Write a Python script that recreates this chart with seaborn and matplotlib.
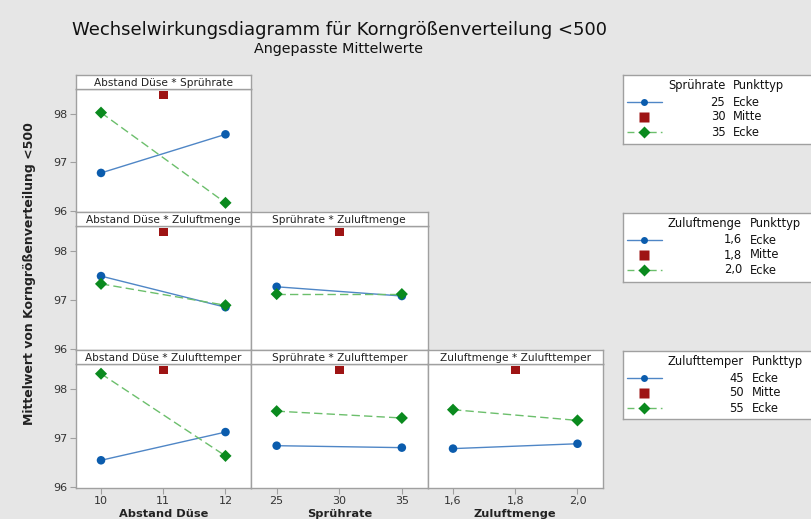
import numpy as np
import pandas as pd
import matplotlib
matplotlib.use("Agg")
import matplotlib.pyplot as plt
import seaborn as sns

# ---------------- data ----------------
factor_names = ["Abstand Düse", "Sprührate", "Zuluftmenge", "Zulufttemper"]
abstand_levels = [10, 11, 12]
spruehrate_levels = [25, 30, 35]
zuluftmenge_levels = [1.6, 1.8, 2.0]
zulufttemper_levels = [45, 50, 55]
abstand_labels = ["10", "11", "12"]
spruehrate_labels = ["25", "30", "35"]
zuluftmenge_labels = ["1,6", "1,8", "2,0"]
zulufttemper_labels = ["45", "50", "55"]
punkttyp = ["Ecke", "Mitte", "Ecke"]

# fitted means (low / high level of the trace factor at low / high x)
ad_sr_low = [96.78, 97.58]
ad_sr_high = [98.03, 96.16]
ad_zm_low = [97.49, 96.85]
ad_zm_high = [97.33, 96.89]
sr_zm_low = [97.27, 97.08]
sr_zm_high = [97.12, 97.12]
ad_zt_low = [96.54, 97.12]
ad_zt_high = [98.32, 96.63]
sr_zt_low = [96.84, 96.80]
sr_zt_high = [97.55, 97.41]
zm_zt_low = [96.78, 96.88]
zm_zt_high = [97.58, 97.36]
center_mean = 98.40

x_levels = [abstand_levels, spruehrate_levels, zuluftmenge_levels]
x_labels = [abstand_labels, spruehrate_labels, zuluftmenge_labels]
trace_levels = [spruehrate_levels, zuluftmenge_levels, zulufttemper_levels]
trace_labels = [spruehrate_labels, zuluftmenge_labels, zulufttemper_labels]

# panels: (row, col, low series, high series)
panels = [
    (0, 0, ad_sr_low, ad_sr_high),
    (1, 0, ad_zm_low, ad_zm_high),
    (1, 1, sr_zm_low, sr_zm_high),
    (2, 0, ad_zt_low, ad_zt_high),
    (2, 1, sr_zt_low, sr_zt_high),
    (2, 2, zm_zt_low, zm_zt_high),
]

# ---------------- style ----------------
BG = "#e6e6e6"
EDGE = "#a0a0a0"
BLUE_M = "#0b5cad"
BLUE_L = "#4f86c6"
GREEN_M = "#0a8a1e"
GREEN_L = "#6cbf6c"
RED = "#9e1414"

sns.set_theme(style="white")
plt.rcParams["font.family"] = ["DejaVu Sans"]

W, H = 811, 519
fig = plt.figure(figsize=(W / 100, H / 100), dpi=100, facecolor=BG)


def px_axes(x0, y0, x1, y1, **kw):
    return fig.add_axes([x0 / W, 1 - y1 / H, (x1 - x0) / W, (y1 - y0) / H], **kw)


col_x = [(75.5, 251), (251, 427.5), (427.5, 603)]
row_y = [(75, 89, 212), (212, 226, 350), (350, 364, 488)]
ylim = (95.97, 98.52)

for (r, c, low, high) in panels:
    x0, x1 = col_x[c]
    s0, s1, p1 = row_y[r]
    ax = px_axes(x0, s1, x1, p1)
    ax.set_facecolor("white")
    xs = x_levels[c]
    tl = trace_levels[r]
    lo_key, hi_key = str(tl[0]), str(tl[2])
    df = pd.DataFrame({
        "x": [xs[0], xs[2], xs[0], xs[2]],
        "y": list(low) + list(high),
        "level": [lo_key] * 2 + [hi_key] * 2,
    })
    sns.lineplot(data=df, x="x", y="y", hue="level", style="level",
                 palette={lo_key: BLUE_L, hi_key: GREEN_L},
                 dashes={lo_key: "", hi_key: (6, 3)},
                 linewidth=1.0, legend=False, ax=ax, sort=False)
    sns.scatterplot(data=df, x="x", y="y", hue="level", style="level",
                    palette={lo_key: BLUE_M, hi_key: GREEN_M},
                    markers={lo_key: "o", hi_key: "D"},
                    s=38, edgecolor="none", legend=False, ax=ax, zorder=3)
    dc = pd.DataFrame({"x": [xs[1]], "y": [center_mean]})
    sns.scatterplot(data=dc, x="x", y="y", marker="s", color=RED, s=38,
                    edgecolor="none", legend=False, ax=ax, zorder=3)
    rng = xs[2] - xs[0]
    ax.set_xlim(xs[0] - 0.205 * rng, xs[2] + 0.205 * rng)
    ax.set_ylim(*ylim)
    ax.set_xlabel("")
    ax.set_ylabel("")
    for sp in ax.spines.values():
        sp.set_color(EDGE)
        sp.set_linewidth(1.0)
    ax.set_xticks(xs)
    ax.set_yticks([96, 97, 98])
    ax.tick_params(axis="both", which="both", length=4, width=0.8, color=EDGE,
                   labelsize=8, labelcolor="#333333", pad=2, direction="out")
    if r == 2:
        ax.set_xticklabels(x_labels[c])
        ax.tick_params(axis="x", bottom=True)
    else:
        ax.tick_params(axis="x", bottom=False, labelbottom=False)
    if c == 0:
        ax.set_yticklabels(["96", "97", "98"])
        ax.tick_params(axis="y", left=True)
    else:
        ax.tick_params(axis="y", left=False, labelleft=False)
    # strip
    sax = px_axes(x0, s0, x1, s1)
    sax.set_facecolor("white")
    sax.set_xticks([])
    sax.set_yticks([])
    for sp in sax.spines.values():
        sp.set_color(EDGE)
        sp.set_linewidth(1.0)
    sax.text(0.5, 0.45, f"{factor_names[c]} * {factor_names[r + 1]}",
             ha="center", va="center", fontsize=7.6, color="#222222",
             transform=sax.transAxes)

# x axis titles
for c in range(3):
    cx = (col_x[c][0] + col_x[c][1]) / 2
    fig.text(cx / W, 1 - 509 / H, factor_names[c], ha="center", va="top",
             fontsize=8.2, fontweight="bold", color="#222222")

# y axis title
fig.text(30 / W, 1 - 274 / H, "Mittelwert von Korngrößenverteilung <500",
         rotation=90, ha="center", va="center", fontsize=9, fontweight="bold",
         color="#222222")

# titles
fig.text(339 / W, 1 - 30 / H, "Wechselwirkungsdiagramm für Korngrößenverteilung <500",
         ha="center", va="center", fontsize=13, color="#111111")
fig.text(339 / W, 1 - 49 / H, "Angepasste Mittelwerte",
         ha="center", va="center", fontsize=10.3, color="#111111")

# legends
leg_y = [(75, 144), (213, 282), (351, 419)]
fig.canvas.draw()
renderer = fig.canvas.get_renderer()
for i in range(3):
    y0, y1 = leg_y[i]
    lax = px_axes(623, y0, W + 2, y1)
    lax.set_facecolor("white")
    lax.set_xlim(0, W + 2 - 623)
    lax.set_ylim(y1 - y0, 0)
    lax.set_xticks([])
    lax.set_yticks([])
    for sp in lax.spines.values():
        sp.set_color(EDGE)
        sp.set_linewidth(1.0)
    name = factor_names[i + 1]
    t = lax.text(45, 11, name, ha="left", va="center", fontsize=8.3, color="#111111")
    bb = t.get_window_extent(renderer)
    right_px = bb.x1 / fig.dpi * 100 - 623  # figure px -> legend px
    lax.text(right_px + 8, 11, "Punkttyp", ha="left", va="center",
             fontsize=8.3, color="#111111")
    rows_y = [27, 42, 57]
    labs = trace_labels[i]
    for j in range(3):
        lax.text(right_px, rows_y[j], labs[j], ha="right", va="center",
                 fontsize=8.3, color="#111111")
        lax.text(right_px + 8, rows_y[j], punkttyp[j], ha="left", va="center",
                 fontsize=8.3, color="#111111")
    lax.plot([4, 39], [rows_y[0], rows_y[0]], color=BLUE_L, lw=1.0)
    lax.plot([21], [rows_y[0]], marker="o", color=BLUE_M, ms=5, mec="none")
    lax.plot([21], [rows_y[1]], marker="s", color=RED, ms=6.5, mec="none")
    lax.plot([4, 39], [rows_y[2], rows_y[2]], color=GREEN_L, lw=1.0, dashes=(5, 3))
    lax.plot([21], [rows_y[2]], marker="D", color=GREEN_M, ms=6.5, mec="none")

fig.savefig("out.png", dpi=100, facecolor=BG)
